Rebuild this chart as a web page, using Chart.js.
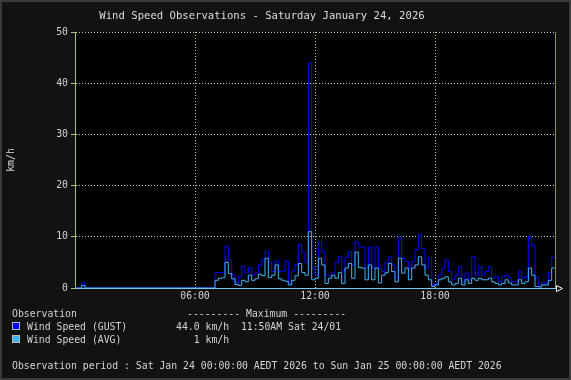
<!DOCTYPE html>
<html>
<head>
<meta charset="utf-8">
<script src="https://cdn.jsdelivr.net/npm/chart.js@4/dist/chart.umd.min.js"></script>
<style>
html,body{margin:0;padding:0;background:#111;}
#wrap{position:relative;width:571px;height:380px;background:#121212;overflow:hidden;}
#c{position:absolute;left:0;top:0;}
#frame{position:absolute;left:0;top:0;width:571px;height:380px;box-sizing:border-box;border:2px solid #3a3a3a;pointer-events:none;}
.t{position:absolute;font-family:"DejaVu Sans Mono",monospace;font-size:9.8px;line-height:12px;color:#d4d4d4;white-space:pre;}
#title{left:0;width:524px;top:9px;text-align:center;font-size:10.6px;color:#dcdcdc;}
.sq{position:absolute;width:6px;height:6px;border:1px solid #b8b8b8;}
</style>
</head>
<body>
<div id="wrap">
  <canvas id="c" width="571" height="380"></canvas>
  <div id="title" class="t"></div>
  <div class="t" style="left:12px;top:308px;">Observation</div>
  <div class="t" style="left:187px;top:308px;">--------- Maximum ---------</div>
  <div id="sq0" class="sq" style="left:12px;top:322px;"></div>
  <div id="n0" class="t" style="left:27px;top:321px;"></div>
  <div id="m0" class="t" style="left:176px;top:321px;"></div>
  <div id="sq1" class="sq" style="left:12px;top:335px;"></div>
  <div id="n1" class="t" style="left:27px;top:334px;"></div>
  <div id="m1" class="t" style="left:193.7px;top:334px;"></div>
  <div id="period" class="t" style="left:12px;top:360px;"></div>
  <div id="frame"></div>
</div>
<script>
// ---- data (10-minute slots from 00:00 to 23:50, km/h) ----
const chartTitle = "Wind Speed Observations - Saturday January 24, 2026";
const seriesNames = ["Wind Speed (GUST)", "Wind Speed (AVG)"];
const seriesMaxText = ["44.0 km/h  11:50AM Sat 24/01", "1 km/h"];
const periodText = "Observation period : Sat Jan 24 00:00:00 AEDT 2026 to Sun Jan 25 00:00:00 AEDT 2026";
const yAxisLabel = "km/h";
const xTickLabels = ["06:00", "12:00", "18:00"];
const slotMinutes = 10;

const gustKmh = [
  0,0,1,0,0,0, 0,0,0,0,0,0, 0,0,0,0,0,0, 0,0,0,0,0,0, 0,0,0,0,0,0, 0,0,0,0,0,0, 0,0,0,0,0,0,
  3,3,3,8.2,5.5,2.6,
  1,2.2,4.2,3,4,2.5,
  2.9,4.5,5.5,7.2,5,3.2,
  5.3,3.2,3.2,5.3,1,3.2,
  4.6,8.5,7,5,44,3.9,
  2.5,9,7,2.5,2.5,2.9,
  5,6.1,3.2,6,7.1,4.5,
  9,8,8,3.9,8,3.9,
  8,3.9,3.2,5,6.1,4.5,
  2,10,5.8,5.2,3.9,5.2,
  7.5,10.5,7.7,3.9,6,0.6,
  0.9,2.5,3.9,5.5,3.2,1.6,
  2.5,4.2,1.2,2.9,1.6,6.1,
  2.5,4.2,2.5,3.2,4.2,1.9,
  2.2,1.2,2.2,2.5,2,1.2,
  1.2,3.2,1.9,2.2,10,8.4,
  2,0.3,1.2,0.9,3,6
];
const avgKmh = [
  0,0,0.5,0,0,0, 0,0,0,0,0,0, 0,0,0,0,0,0, 0,0,0,0,0,0, 0,0,0,0,0,0, 0,0,0,0,0,0, 0,0,0,0,0,0,
  1.5,1.9,2,5,2.8,1.8,
  0.7,0.5,1.5,1.2,2.5,1.5,
  1.8,2.7,2.4,5.8,2,2.5,
  4.5,1.8,1.5,1.3,0.6,1.5,
  2.4,4.8,3,2.5,11,1.6,
  1.9,5.8,4.5,0.9,1.9,2.5,
  1.9,3,0.9,3.9,4.8,1.9,
  7,4,3.9,1.6,4.5,1.6,
  3.9,1,2.5,3,4.8,3.2,
  1.2,5.8,2.9,3.9,1.6,3.9,
  4.5,6.1,4.5,2.5,1.6,0.3,
  0.6,1.6,1.9,2.2,1.2,0.6,
  0.9,1.9,0.6,1.6,0.9,1.9,
  1.5,1.9,1.6,1.6,1.9,1.2,
  0.9,0.6,0.9,1.6,1,0.6,
  0.6,1.6,0.9,1.2,3.9,2.5,
  0.3,0.2,0.6,0.6,1.5,3.9
];
const seriesColors = ["#0000ff", "#3fb4f5"];

// ---- text ----
document.getElementById('title').textContent = chartTitle;
document.getElementById('n0').textContent = seriesNames[0];
document.getElementById('n1').textContent = seriesNames[1];
document.getElementById('m0').textContent = seriesMaxText[0];
document.getElementById('m1').textContent = seriesMaxText[1];
document.getElementById('period').textContent = periodText;
document.getElementById('sq0').style.background = seriesColors[0];
document.getElementById('sq1').style.background = seriesColors[1];

function toPoints(arr) {
  const pts = arr.map((v, i) => ({x: i * slotMinutes, y: v}));
  pts.push({x: arr.length * slotMinutes, y: arr[arr.length - 1]});
  return pts;
}

const mono = "'DejaVu Sans Mono', monospace";
const textColor = '#d4d4d4';
const gridColor = '#c2d3a2';

const framePlugin = {
  id: 'framePlugin',
  beforeDraw(chart) {
    const a = chart.chartArea, ctx = chart.ctx;
    ctx.save();
    ctx.fillStyle = '#000';
    ctx.fillRect(a.left, a.top, a.right - a.left, a.bottom - a.top);
    ctx.restore();
  },
  afterDraw(chart) {
    const a = chart.chartArea, ctx = chart.ctx;
    ctx.save();
    ctx.strokeStyle = '#8d8d45';
    ctx.lineWidth = 1;
    ctx.beginPath();
    ctx.moveTo(Math.round(a.right) + 0.5, a.top);
    ctx.lineTo(Math.round(a.right) + 0.5, a.bottom);
    ctx.stroke();
    // axis arrow
    const y = Math.round(a.bottom) + 0.5, x = Math.round(a.right) + 1.5;
    ctx.strokeStyle = '#ffffff';
    ctx.beginPath();
    ctx.moveTo(x, y - 3); ctx.lineTo(x + 6, y); ctx.lineTo(x, y + 3); ctx.closePath();
    ctx.stroke();
    ctx.restore();
  }
};

new Chart(document.getElementById('c'), {
  type: 'line',
  data: {
    datasets: [
      {label: seriesNames[1], data: toPoints(avgKmh), borderColor: seriesColors[1], borderWidth: 1,
       pointRadius: 0, stepped: true, fill: false, order: 0},
      {label: seriesNames[0], data: toPoints(gustKmh), borderColor: seriesColors[0], borderWidth: 1,
       pointRadius: 0, stepped: true, fill: false, order: 1}
    ]
  },
  options: {
    responsive: false,
    animation: false,
    devicePixelRatio: 1,
    layout: {padding: {left: 0, top: 32, right: 16, bottom: 72}},
    plugins: {legend: {display: false}, tooltip: {enabled: false}, title: {display: false}},
    scales: {
      x: {
        type: 'linear', min: 0, max: 1440,
        afterFit: s => { s.height = 20; },
        afterBuildTicks: s => { s.ticks = [0, 360, 720, 1080, 1440].map(v => ({value: v})); },
        ticks: {
          color: textColor, font: {family: mono, size: 9.8}, padding: 3, maxRotation: 0, autoSkip: false,
          callback: v => { const i = [360, 720, 1080].indexOf(v); return i >= 0 ? xTickLabels[i] : ''; }
        },
        grid: {
          drawTicks: false, lineWidth: 1,
          color: c => (c.tick && (c.tick.value === 0 || c.tick.value === 1440)) ? 'rgba(0,0,0,0)' : gridColor
        },
        border: {display: true, color: '#7cc4ee', width: 1, dash: [1, 2]}
      },
      y: {
        min: 0, max: 50,
        afterFit: s => { s.width = 75; },
        ticks: {stepSize: 10, color: textColor, font: {family: mono, size: 9.8}, padding: 3},
        grid: {
          drawTicks: true, tickLength: 4, tickColor: '#9cc86c', lineWidth: 1,
          color: c => (c.tick && c.tick.value === 0) ? 'rgba(0,0,0,0)' : gridColor
        },
        border: {display: true, color: '#9cc86c', width: 1, dash: [1, 2]},
        title: {display: true, text: yAxisLabel, color: textColor, font: {family: mono, size: 9.8}, padding: {top: 6, bottom: 0}}
      }
    }
  },
  plugins: [framePlugin]
});
</script>
</body>
</html>
